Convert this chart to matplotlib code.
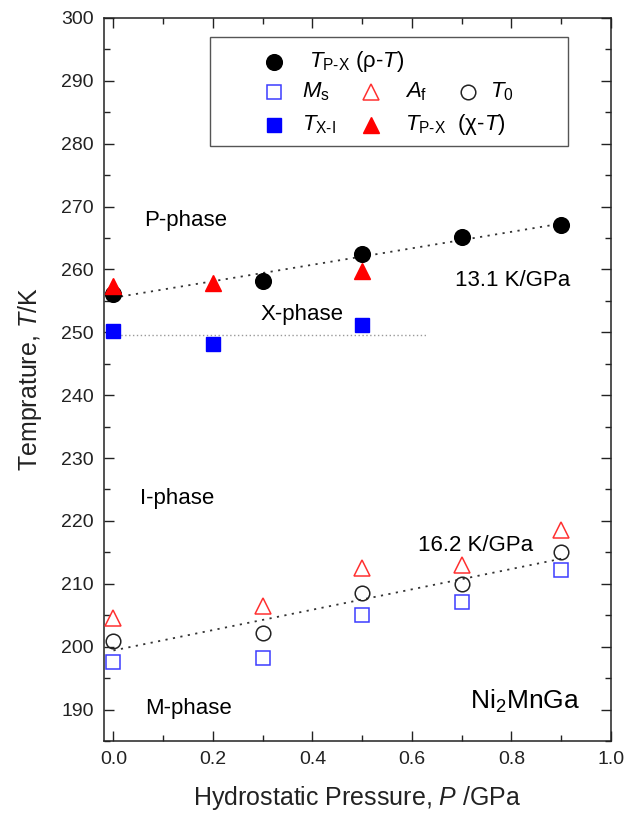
import matplotlib
matplotlib.use("Agg")
import matplotlib.pyplot as plt
import numpy as np
from matplotlib.ticker import MultipleLocator
from matplotlib.patches import Rectangle

plt.rcParams['font.family'] = ['Liberation Sans', 'DejaVu Sans']
plt.rcParams['mathtext.fontset'] = 'custom'
plt.rcParams['mathtext.rm'] = 'Liberation Sans'
plt.rcParams['mathtext.it'] = 'Liberation Sans:italic'
plt.rcParams['mathtext.bf'] = 'Liberation Sans:bold'

# ---- data ----
P_rho = [0.0, 0.3, 0.5, 0.7, 0.9]
T_rho = [256.1, 258.1, 262.5, 265.1, 267.0]
P_chi = [0.0, 0.2, 0.5]
T_chi = [257.4, 257.9, 259.8]
P_XI = [0.0, 0.2, 0.5]
T_XI = [250.2, 248.1, 251.1]
P_mart = [0.0, 0.3, 0.5, 0.7, 0.9]
Ms = [197.6, 198.2, 205.0, 207.1, 212.2]
Af = [204.5, 206.5, 212.5, 213.0, 218.5]
T0 = [200.95, 202.1, 208.6, 209.9, 215.1]

fit_upper = (255.5, 13.1)   # intercept, slope
fit_lower = (199.4, 16.2)
fit_range = [0.0, 0.9]
T_XI_mean = 249.6
XI_range = [0.0, 0.63]

fig = plt.figure(figsize=(6.41, 8.14), dpi=100)
ax = fig.add_axes([0.1615, 0.0897, 0.7917, 0.8883])

BLUE = '#0000ff'
BLUE_O = '#3c3cff'
RED = '#ff0000'
RED_O = '#ff3030'

xr = np.array(fit_range)
ax.plot(xr, fit_upper[0] + fit_upper[1] * xr, color='#333333', lw=1.3,
        ls=(0, (1.2, 3.0)), zorder=1)
ax.plot(xr, fit_lower[0] + fit_lower[1] * xr, color='#333333', lw=1.3,
        ls=(0, (1.2, 3.0)), zorder=1)
ax.plot(XI_range, [T_XI_mean, T_XI_mean], color='#999999', lw=1.0,
        ls=(0, (1, 1.8)), zorder=1)

ax.plot(P_rho, T_rho, 'o', color='black', ms=11.3, zorder=3, clip_on=False)
ax.plot(P_chi, T_chi, '^', color=RED, ms=12.0, zorder=4, clip_on=False)
ax.plot(P_XI, T_XI, 's', color=BLUE, ms=9.6, zorder=3, clip_on=False)
ax.plot(P_mart, Ms, 's', mfc='none', mec=BLUE_O, mew=1.1, ms=10.0, zorder=3, clip_on=False)
ax.plot(P_mart, Af, '^', mfc='none', mec=RED_O, mew=1.1, ms=11.3, zorder=3, clip_on=False)
ax.plot(P_mart, T0, 'o', mfc='none', mec='#222222', mew=1.1, ms=10.5, zorder=3, clip_on=False)

ax.set_xlim(-0.02, 1.0)
ax.set_ylim(185, 300)
ax.xaxis.set_major_locator(MultipleLocator(0.2))
ax.xaxis.set_minor_locator(MultipleLocator(0.1))
ax.yaxis.set_major_locator(MultipleLocator(10))
ax.yaxis.set_minor_locator(MultipleLocator(5))
ax.set_yticks(np.arange(190, 301, 10))
ax.tick_params(which='both', direction='in', top=True, right=True, width=1.0,
               labelsize=14, colors='#222222')
ax.tick_params(which='major', length=7, pad=7)
ax.tick_params(which='minor', length=4)
ax.xaxis.set_major_formatter(matplotlib.ticker.FormatStrFormatter('%.1f'))
for s in ax.spines.values():
    s.set_linewidth(1.1)
    s.set_color('#222222')

ax.set_xlabel('Hydrostatic Pressure, $P$ /GPa', fontsize=18, labelpad=12, color='#222222')
ax.set_ylabel('Temprature, $T$/K', fontsize=18, labelpad=12, color='#222222')

fs = 16
ax.text(0.061, 267.75, 'P-phase', fontsize=fs, va='center', ha='left')
ax.text(0.295, 252.9, 'X-phase', fontsize=fs, va='center', ha='left')
ax.text(0.054, 223.6, 'I-phase', fontsize=fs, va='center', ha='left')
ax.text(0.064, 190.2, 'M-phase', fontsize=fs, va='center', ha='left')
ax.text(0.717, 191.25, 'Ni$_2$MnGa', fontsize=19, va='center', ha='left')
ax.text(0.687, 258.3, '13.1 K/GPa', fontsize=fs, va='center', ha='left')
ax.text(0.612, 216.1, '16.2 K/GPa', fontsize=fs, va='center', ha='left')

# ---- legend (manual layout) ----
tr = ax.transAxes
ax.add_patch(Rectangle((0.2099, 0.8231), 0.7054, 0.1509, transform=tr,
                       fill=True, facecolor='white', edgecolor='#555555',
                       lw=1.0, zorder=5))
r1, r2, r3 = 0.9394, 0.8979, 0.8519
c1m, c1t = 0.336, 0.392
c2m, c2t = 0.528, 0.594
c3m, c3t = 0.718, 0.762
kw = dict(transform=tr, zorder=6, clip_on=False)
ax.plot([c1m], [r1], 'o', color='black', ms=11.3, **kw)
ax.plot([c1m], [r2], 's', mfc='none', mec=BLUE_O, mew=1.1, ms=10.0, **kw)
ax.plot([c1m], [r3], 's', color=BLUE, ms=9.6, **kw)
ax.plot([c2m], [r2], '^', mfc='none', mec=RED_O, mew=1.1, ms=11.3, **kw)
ax.plot([c2m], [r3], '^', color=RED, ms=12.0, **kw)
ax.plot([c3m], [r2], 'o', mfc='none', mec='#222222', mew=1.1, ms=10.5, **kw)
tk = dict(transform=tr, zorder=6, fontsize=fs, va='center', ha='left')
ax.text(c1t + 0.012, r1, r'$T_{\mathrm{P}\text{-}\mathrm{X}}$ (ρ-$T$)', **tk)
ax.text(c1t, r2, r'$M_{\mathrm{s}}$', **tk)
ax.text(c1t, r3, r'$T_{\mathrm{X}\text{-}\mathrm{I}}$', **tk)
ax.text(c2t, r2, r'$A_{\mathrm{f}}$', **tk)
ax.text(c2t, r3, r'$T_{\mathrm{P}\text{-}\mathrm{X}}$  (χ-$T$)', **tk)
ax.text(c3t, r2, r'$T_{0}$', **tk)

fig.savefig('out.png', dpi=100)
